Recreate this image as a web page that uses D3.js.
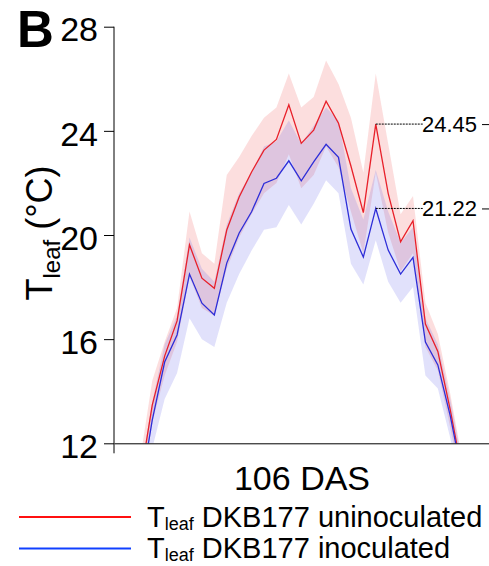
<html lang="en">
  <head>
    <meta charset="utf-8">
    <title>Tleaf 106 DAS</title>
    <script src="https://d3js.org/d3.v7.min.js"></script>
    <style>
      body { margin: 0; background: #fff; }
      text { font-family: "Liberation Sans", Arial, sans-serif; fill: #000; }
    </style>
  </head>
  <body>
    <script type="text/javascript">
      var w = 489;
      var h = 566;
      var plot = {left: 114, right: 489, top: 26.7, bottom: 443.3};

      // time of day (h), half-hour steps
      var hours = [6.0, 6.5, 7.0, 7.5, 8.0, 8.5, 9.0, 9.5, 10.0, 10.5, 11.0, 11.5, 12.0, 12.5,
                   13.0, 13.5, 14.0, 14.5, 15.0, 15.5, 16.0, 16.5, 17.0, 17.5, 18.0, 18.5, 19.0];
      // uninoculated
      var uninoc = [10.51, 13.47, 15.35, 16.70, 19.62, 18.34, 17.95, 20.19, 21.46, 22.42, 23.26, 23.67, 25.00, 23.52,
                    24.03, 25.14, 24.29, 22.65, 20.86, 24.26, 21.60, 19.74, 20.55, 16.58, 15.53, 13.28, 10.78];
      var uninocHi = [11.3, 14.4, 15.9, 17.2, 20.9, 19.3, 18.9, 22.3, 23.0, 23.8, 24.5, 24.9, 26.2, 24.9,
                      25.3, 26.7, 25.8, 24.5, 22.4, 26.2, 23.5, 20.8, 21.5, 17.4, 16.2, 13.9, 11.3];
      var uninocLo = [9.8, 12.8, 14.6, 15.9, 18.4, 17.2, 16.9, 18.7, 19.9, 20.8, 21.6, 22.0, 23.1, 21.8,
                      22.3, 23.4, 22.6, 20.9, 19.3, 22.4, 20.1, 18.6, 19.3, 15.7, 14.8, 12.6, 10.2];
      // inoculated
      var inoc = [10.00, 12.89, 15.12, 16.16, 18.50, 17.38, 16.93, 18.92, 20.08, 20.89, 21.98, 22.18, 22.85, 22.08,
                  22.81, 23.48, 22.98, 20.23, 19.15, 21.02, 19.42, 18.50, 19.14, 15.89, 15.01, 13.05, 10.66];
      var inocHi = [10.7, 13.6, 15.8, 16.9, 19.9, 18.7, 18.2, 20.4, 21.6, 22.4, 23.4, 23.6, 24.4, 23.5,
                    24.2, 24.9, 24.4, 21.8, 20.6, 22.5, 20.9, 19.7, 20.3, 16.8, 15.8, 13.7, 11.2];
      var inocLo = [9.2, 11.8, 13.7, 14.7, 16.8, 16.0, 15.7, 17.4, 18.5, 19.4, 20.2, 20.3, 21.15, 20.4,
                    21.2, 22.1, 21.6, 18.9, 18.1, 19.8, 18.2, 17.4, 18.0, 14.6, 14.1, 12.2, 9.9];

      var yTicks = [12, 16, 20, 24, 28];
      var peakIndex = 19;
      var peakLabels = ["24.45", "21.22"];
      var legendNames = ["DKB177 uninoculated", "DKB177 inoculated"];

      var xScale = d3.scaleLinear().domain([4.96, 20.06]).range([plot.left, plot.right]);
      var yScale = d3.scaleLinear().domain([12, 28]).range([plot.bottom, plot.top]);

      var svg = d3.select("body").append("svg")
          .attr("width", w)
          .attr("height", h);

      svg.append("clipPath").attr("id", "clip")
        .append("rect")
          .attr("x", plot.left).attr("y", 0)
          .attr("width", plot.right - plot.left).attr("height", plot.bottom);

      var series = [
        {mean: uninoc, hi: uninocHi, lo: uninocLo, line: "#e8202a", fill: "rgba(240,60,60,0.17)"},
        {mean: inoc, hi: inocHi, lo: inocLo, line: "#2e2ed8", fill: "rgba(70,70,232,0.16)"}
      ];

      var g = svg.append("g").attr("clip-path", "url(#clip)");

      series.forEach(function(s) {
        var area = d3.area()
            .x(function(d, i) { return xScale(hours[i]); })
            .y0(function(d, i) { return yScale(s.lo[i]); })
            .y1(function(d, i) { return yScale(s.hi[i]); });
        g.append("path").datum(s.mean)
            .attr("d", area)
            .attr("fill", s.fill);
      });
      series.forEach(function(s) {
        var line = d3.line()
            .x(function(d, i) { return xScale(hours[i]); })
            .y(function(d) { return yScale(d); });
        g.append("path").datum(s.mean)
            .attr("d", line)
            .attr("fill", "none")
            .attr("stroke", s.line)
            .attr("stroke-width", 1.3);
      });

      // axes
      var yAxis = d3.axisLeft(yScale).tickValues(yTicks).tickSize(10).tickSizeOuter(0).tickPadding(6);
      var ya = svg.append("g")
          .attr("transform", "translate(" + plot.left + ",0)")
          .call(yAxis);
      ya.select(".domain").attr("d", "M0," + plot.top + "V" + (plot.bottom + 10));
      ya.selectAll("text").style("font-size", "34px").attr("dy", "0.42em");

      var xAxis = d3.axisBottom(xScale).tickValues([]).tickSizeOuter(0);
      svg.append("g")
          .attr("transform", "translate(0," + plot.bottom + ")")
          .call(xAxis);
      svg.selectAll(".domain, .tick line").attr("stroke", "#000").attr("stroke-width", 1);

      // peak annotations
      var peaks = [uninoc[peakIndex], inoc[peakIndex]];
      var pAxis = d3.axisLeft(yScale).tickValues(peaks).tickSize(7).tickPadding(5)
          .tickFormat(function(d, i) { return peakLabels[i]; });
      var pa = svg.append("g")
          .attr("transform", "translate(" + plot.right + ",0)")
          .call(pAxis);
      pa.select(".domain").remove();
      pa.selectAll("text").style("font-size", "22px");
      svg.selectAll(".peakline").data(peaks).enter().append("line")
          .attr("x1", xScale(hours[peakIndex]))
          .attr("x2", 423)
          .attr("y1", function(d) { return yScale(d); })
          .attr("y2", function(d) { return yScale(d); })
          .attr("stroke", "#000")
          .attr("stroke-width", 1)
          .attr("stroke-dasharray", "2,1");

      // titles
      svg.append("text").attr("x", 17).attr("y", 47)
          .style("font-size", "51px").style("font-weight", "bold").text("B");

      var yt = svg.append("text")
          .attr("transform", "translate(52,233) rotate(-90)")
          .attr("text-anchor", "middle")
          .style("font-size", "36px");
      yt.append("tspan").text("T");
      yt.append("tspan").attr("dy", 8).style("font-size", "24px").text("leaf");
      yt.append("tspan").attr("dy", -8).text(" (\u00B0C)");

      svg.append("text").attr("x", 302).attr("y", 490)
          .attr("text-anchor", "middle")
          .style("font-size", "34px").text("106 DAS");

      // legend
      var legendColors = ["#ff1010", "#1040ff"];
      var leg = svg.selectAll(".leg").data(legendNames).enter().append("g")
          .attr("transform", function(d, i) { return "translate(0," + (i === 0 ? 517 : 548.5) + ")"; });
      leg.append("line")
          .attr("x1", 19).attr("x2", 131)
          .attr("stroke", function(d, i) { return legendColors[i]; })
          .attr("stroke-width", 2);
      var lt = leg.append("text").attr("x", 147).attr("y", 9.5).style("font-size", "29px");
      lt.append("tspan").text("T");
      lt.append("tspan").attr("dy", 3).style("font-size", "18px").text("leaf");
      lt.append("tspan").attr("dy", -3).text(function(d) { return " " + d; });
    </script>
  </body>
</html>
